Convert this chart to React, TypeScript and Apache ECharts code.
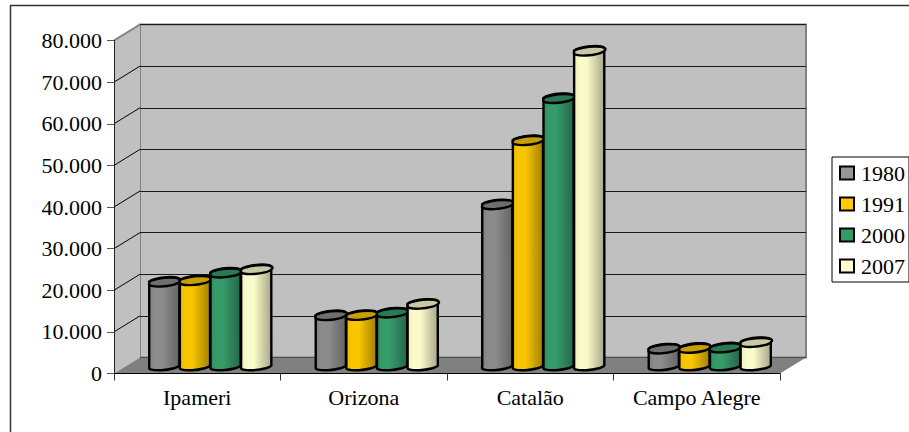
import React, { useEffect, useRef } from "react";
import * as echarts from "echarts";

const municipalities = ["Ipameri", "Orizona", "Catalão", "Campo Alegre"];
const censusYears = ["1980", "1991", "2000", "2007"];
const pop1980 = [20100, 12050, 38700, 4050];
const pop1991 = [20450, 12100, 54100, 4200];
const pop2000 = [22300, 12700, 64200, 4300];
const pop2007 = [23100, 14800, 75600, 5600];
const yearValues = [pop1980, pop1991, pop2000, pop2007];
const yTicks = [0, 10000, 20000, 30000, 40000, 50000, 60000, 70000, 80000];

// [swatch, left shade, highlight, right shade, lid]
const shades = [
  ["#969696", "#808080", "#8c8c8c", "#646464", "#6e6e6e"],
  ["#ffcc00", "#eebb00", "#f8c600", "#a08000", "#c79f00"],
  ["#339966", "#2f8e5f", "#359c69", "#25644a", "#287a52"],
  ["#ffffcc", "#efefbf", "#fbfbc9", "#a6a68a", "#c9c9a5"],
];

const FONT = "'Liberation Serif', serif";
const DEPTH_X = 26;
const DEPTH_Y = -16;
const TILT = 6;

const thousands = (v: number) =>
  v === 0 ? "0" : `${Math.floor(v / 1000)}.${String(v % 1000).padStart(3, "0")}`;

// One cylinder standing half way along the floor's depth.
function cylinder(seriesIdx: number) {
  return (_params: any, api: any) => {
    const cat = api.value(0);
    const base = api.coord([cat, 0]);
    const top = api.coord([cat, api.value(1)]);
    const band = api.size([1, 0])[0];
    const rx = band * 0.091;
    const ry = 3.6;
    const cx = base[0] + DEPTH_X / 2 + (seriesIdx - 1.5) * band * 0.184;
    const by = base[1] + DEPTH_Y / 2;
    const ty = top[1] + DEPTH_Y / 2;
    const a = (TILT * Math.PI) / 180;
    const dx = rx * Math.cos(a);
    const dy = rx * Math.sin(a);
    const arc = `A ${rx} ${ry} ${-TILT} 0 0`;
    const body =
      `M ${cx - dx} ${ty + dy} L ${cx - dx} ${by + dy} ${arc} ${cx + dx} ${by - dy} ` +
      `L ${cx + dx} ${ty - dy} ${arc} ${cx - dx} ${ty + dy} Z`;
    const lid =
      `M ${cx - dx} ${ty + dy} ${arc} ${cx + dx} ${ty - dy} ${arc} ${cx - dx} ${ty + dy} Z`;
    const [, left, mid, right, lidColor] = shades[seriesIdx];
    return {
      type: "group",
      children: [
        {
          type: "path",
          shape: { pathData: body },
          style: {
            fill: {
              type: "linear",
              x: 0,
              y: 0,
              x2: 1,
              y2: 0,
              colorStops: [
                { offset: 0, color: left },
                { offset: 0.2, color: mid },
                { offset: 0.42, color: mid },
                { offset: 1, color: right },
              ],
            },
            stroke: "#000",
            lineWidth: 2.4,
          },
        },
        {
          type: "path",
          shape: { pathData: lid },
          style: { fill: lidColor, stroke: "#000", lineWidth: 2.4 },
        },
      ],
    };
  };
}

// Side wall, floor and the slanted rulings between the axis and the back wall.
function walls(_params: any, api: any) {
  const band = api.size([1, 0])[0];
  const first = api.coord([0, 0]);
  const last = api.coord([municipalities.length - 1, 0]);
  const x0 = first[0] - band / 2;
  const y0 = first[1];
  const x1 = last[0] + band / 2;
  const yTop = api.coord([0, 80000])[1];
  const children: any[] = [
    {
      type: "polygon",
      shape: {
        points: [
          [x0, y0],
          [x0, yTop],
          [x0 + DEPTH_X, yTop + DEPTH_Y],
          [x0 + DEPTH_X, y0 + DEPTH_Y],
        ],
      },
      style: { fill: "#c0c0c0" },
    },
    {
      type: "polygon",
      shape: {
        points: [
          [x0, y0],
          [x1, y0],
          [x1 + DEPTH_X, y0 + DEPTH_Y],
          [x0 + DEPTH_X, y0 + DEPTH_Y],
        ],
      },
      style: { fill: "#808080" },
    },
  ];
  yTicks.slice(1).forEach((tick) => {
    const y = api.coord([0, tick])[1];
    children.push({
      type: "line",
      shape: { x1: x0, y1: y, x2: x0 + DEPTH_X, y2: y + DEPTH_Y },
      style: {
        stroke: tick === 80000 ? "#808080" : "#000",
        lineWidth: tick === 80000 ? 2 : 1,
      },
    });
  });
  return { type: "group", children };
}

export default function App() {
  const ref = useRef<HTMLDivElement>(null);

  useEffect(() => {
    const chart = echarts.init(ref.current, null, { renderer: "svg" });
    chart.setOption({
      animation: false,
      backgroundColor: "#fff",
      textStyle: { fontFamily: FONT, color: "#000" },
      grid: [
        { left: 114, top: 40.5, width: 666, height: 333, z: 1 },
        {
          left: 140,
          top: 24.5,
          width: 666,
          height: 333,
          show: true,
          backgroundColor: "#c0c0c0",
          borderColor: "#808080",
          borderWidth: 2,
          z: 0,
        },
      ],
      xAxis: [
        {
          type: "category",
          gridIndex: 0,
          data: municipalities,
          axisLine: { lineStyle: { color: "#000", width: 1 } },
          axisTick: { show: true, length: 7, alignWithLabel: false, lineStyle: { color: "#333" } },
          axisLabel: { fontFamily: FONT, fontSize: 22, color: "#000", margin: 13, interval: 0 },
          z: 6,
        },
        {
          type: "category",
          gridIndex: 1,
          data: municipalities,
          axisLine: { show: false },
          axisTick: { show: false },
          axisLabel: { show: false },
        },
      ],
      yAxis: [
        {
          type: "value",
          gridIndex: 0,
          min: 0,
          max: 80000,
          interval: 10000,
          splitLine: { show: false },
          axisLine: { show: true, lineStyle: { color: "#222", width: 1 } },
          axisTick: { show: true, length: 7, lineStyle: { color: "#555" } },
          axisLabel: {
            fontFamily: FONT,
            fontSize: 22,
            color: "#000",
            margin: 12,
            formatter: thousands,
          },
          z: 6,
        },
        {
          type: "value",
          gridIndex: 1,
          min: 0,
          max: 80000,
          interval: 10000,
          axisLine: { show: false },
          axisTick: { show: false },
          axisLabel: { show: false },
          splitLine: { show: true, lineStyle: { color: "#1a1a1a", width: 1 } },
        },
      ],
      legend: {
        orient: "vertical",
        left: 832,
        top: 157,
        padding: [5, 4, 5, 7],
        backgroundColor: "#fff",
        borderColor: "#000",
        borderWidth: 1,
        itemWidth: 14,
        itemHeight: 13,
        itemGap: 9,
        icon: "rect",
        selectedMode: false,
        textStyle: { fontFamily: FONT, fontSize: 22, color: "#000", padding: [0, 0, 0, 2] },
        data: censusYears.map((name, i) => ({
          name,
          itemStyle: { color: shades[i][0], borderColor: "#000", borderWidth: 2 },
        })),
      },
      series: [
        {
          type: "custom",
          name: "walls",
          xAxisIndex: 0,
          yAxisIndex: 0,
          z: 1,
          silent: true,
          clip: false,
          renderItem: walls,
          encode: { x: 0, y: 1 },
          data: [[0, 0]],
        },
        ...censusYears.map((name, i) => ({
          type: "custom",
          name,
          xAxisIndex: 0,
          yAxisIndex: 0,
          z: 3,
          clip: false,
          itemStyle: { color: shades[i][0] },
          renderItem: cylinder(i),
          encode: { x: 0, y: 1 },
          data: yearValues[i].map((v, c) => [c, v]),
        })),
      ],
      graphic: [
        {
          type: "polyline",
          silent: true,
          shape: {
            points: [
              [10.5, 432],
              [10.5, 5.5],
              [909, 5.5],
            ],
          },
          style: { fill: "none", stroke: "#333", lineWidth: 1.5 },
        },
      ],
    });
    return () => chart.dispose();
  }, []);

  return (
    <div
      ref={ref}
      style={{ position: "absolute", left: 0, top: 0, width: 909, height: 432 }}
    />
  );
}
